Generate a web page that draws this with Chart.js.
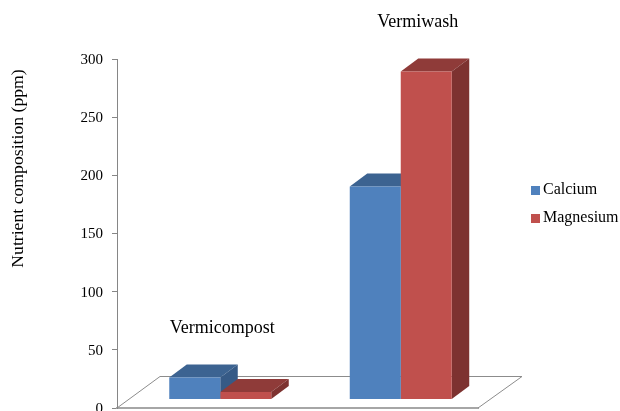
<!DOCTYPE html>
<html><head><meta charset="utf-8">
<style>html,body{margin:0;padding:0;background:#fff;overflow:hidden}canvas{display:block;filter:blur(0.4px)}</style>
<script src="https://cdn.jsdelivr.net/npm/chart.js@4"></script>
</head><body><canvas id="c" width="620" height="411"></canvas>
<script>
const categories = ['Vermicompost', 'Vermiwash'];
const calcium = [19, 183];
const magnesium = [6.5, 282];
const yTicks = [0, 50, 100, 150, 200, 250, 300];
const yTitle = 'Nutrient composition (ppm)';

const SERIF = '"Liberation Serif","Times New Roman",serif';
const FRONT_DX = 13, FRONT_DY = -8.5, DEPTH_X = 17.5, DEPTH_Y = -13;
const BLUE = '#4F81BD', RED = '#C0504D';
const SHADES = [{top:'#3C6391', side:'#365A86'}, {top:'#8F3B39', side:'#7D3230'}];
const LABEL_DX = [2, 17], LABEL_RISE = 49;

function swatch(color){
  const c = document.createElement('canvas');
  c.width = 11; c.height = 9;
  const g = c.getContext('2d');
  g.fillStyle = color; g.fillRect(2, 0, 9, 9);
  return c;
}
function poly(ctx, pts, fill){
  ctx.beginPath();
  pts.forEach((p,i)=> i ? ctx.lineTo(p[0],p[1]) : ctx.moveTo(p[0],p[1]));
  ctx.closePath(); ctx.fillStyle = fill; ctx.fill();
}
const threeD = {
  id:'threeD',
  beforeLayout(chart){
    const lg = chart.legend;
    if(lg && !lg._wrapped){
      const f = lg.fit;
      lg.fit = function(){ f.call(this); this.width = 142; };
      lg._wrapped = true;
    }
  },
  afterLayout(chart){
    const lg = chart.legend;
    lg.left = 522; lg.right = 620; lg.top = 170; lg.bottom = 240;
  },
  beforeDatasetsDraw(chart){
    const ctx = chart.ctx, a = chart.chartArea;
    ctx.save();
    ctx.strokeStyle = '#8c8c8c'; ctx.lineWidth = 1;
    ctx.beginPath();
    ctx.moveTo(a.left, a.bottom);
    ctx.lineTo(a.left+43, a.bottom-31.5);
    ctx.lineTo(a.right+44, a.bottom-31.5);
    ctx.lineTo(a.right, a.bottom);
    ctx.stroke();
    ctx.restore();
    ctx.save();
    ctx.translate(FRONT_DX, FRONT_DY);
    chart.data.datasets.forEach((ds,i)=>{
      chart.getDatasetMeta(i).data.forEach(b=>{
        const l=b.x-b.width/2, r=b.x+b.width/2, t=b.y, bt=b.base;
        poly(ctx,[[l,t],[r,t],[r+DEPTH_X,t+DEPTH_Y],[l+DEPTH_X,t+DEPTH_Y]],SHADES[i].top);
        poly(ctx,[[r,t],[r+DEPTH_X,t+DEPTH_Y],[r+DEPTH_X,bt+DEPTH_Y],[r,bt]],SHADES[i].side);
      });
    });
  },
  afterDatasetsDraw(chart){
    const ctx = chart.ctx;
    ctx.restore();
    const m0 = chart.getDatasetMeta(0).data, m1 = chart.getDatasetMeta(1).data;
    ctx.save();
    ctx.font = '18px '+SERIF; ctx.fillStyle='#000'; ctx.textAlign='center'; ctx.textBaseline='middle';
    categories.forEach((c,i)=>{
      const top = Math.min(m0[i].y, m1[i].y) + FRONT_DY;
      const x = (m0[i].x + m1[i].x)/2 + FRONT_DX + LABEL_DX[i];
      ctx.fillText(c, x, top - LABEL_RISE);
    });
    ctx.restore();
  }
};

new Chart(document.getElementById('c'),{
  type:'bar',
  plugins:[threeD],
  data:{labels:categories,datasets:[
    {label:'Calcium',data:calcium,backgroundColor:BLUE,clip:false,pointStyle:swatch(BLUE)},
    {label:'Magnesium',data:magnesium,backgroundColor:RED,clip:false,pointStyle:swatch(RED)}
  ]},
  options:{
    responsive:false,animation:false,
    layout:{padding:{top:59,bottom:3,left:0,right:0}},
    datasets:{bar:{categoryPercentage:0.565,barPercentage:1}},
    plugins:{
      tooltip:{enabled:false},
      title:{display:false},
      legend:{position:'right',align:'start',
        labels:{usePointStyle:true,pointStyleWidth:1,boxHeight:9,padding:12,color:'#000',font:{family:SERIF,size:16}}}
    },
    scales:{
      x:{
        ticks:{display:false},
        grid:{display:true,drawOnChartArea:false,drawTicks:false},
        border:{color:'#a6a6a6',width:2}
      },
      y:{
        min:0,max:300,
        afterBuildTicks(s){ s.ticks = yTicks.map(v=>({value:v})); },
        afterFit(s){
          s.width = 117; s.paddingTop = 0; s.paddingBottom = 0;
          if(!s._titleWrapped){
            const d = s.drawTitle;
            s.drawTitle = function(){ const c=this.ctx; c.save(); c.translate(0,-65); d.call(this); c.restore(); };
            s._titleWrapped = true;
          }
        },
        ticks:{color:'#000',padding:9,labelOffset:1,font:{family:SERIF,size:15}},
        grid:{drawOnChartArea:false,tickLength:5,color:'#868686'},
        border:{color:'#868686',width:1},
        title:{display:true,text:yTitle,color:'#000',padding:{top:8,bottom:0},font:{family:SERIF,size:17.7}}
      }
    }
  }
});
</script></body></html>
